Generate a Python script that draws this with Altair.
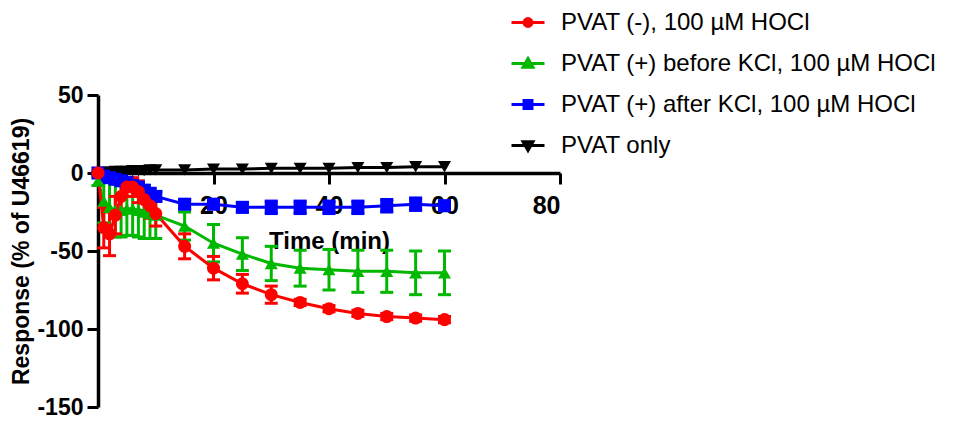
import altair as alt
import pandas as pd

# ---------------- data ----------------
times = [0, 1, 2, 3, 4, 5, 6, 7, 8, 9, 10, 15, 20, 25, 30, 35, 40, 45, 50, 55, 60]

series_names = [
    "PVAT (-), 100 µM HOCl",
    "PVAT (+) before KCl, 100 µM HOCl",
    "PVAT (+) after KCl, 100 µM HOCl",
    "PVAT only",
]
series_colors = ["#FF0000", "#00B800", "#0000FF", "#000000"]
series_shapes = ["circle", "triangle-up", "square", "triangle-down"]

red_mean = [0, -35, -39, -27, -15, -9, -9, -12, -17, -21, -26, -47, -61, -71, -78, -83, -87, -90, -92, -93, -94]
red_err = [0, 13, 14, 12, 8, 6, 6, 7, 7, 8, 8, 8, 7.5, 6, 5.5, 2, 2, 2, 2, 2, 2]

green_mean = [-5, -18, -22, -24, -24, -23, -23, -24, -25, -26, -27, -34, -45, -52, -58, -61, -62, -63, -63, -64, -64]
green_err = [3, 14, 16, 17, 17, 17, 17, 17, 17, 16, 15, 9, 12, 10.5, 11, 11.5, 13, 13.5, 13.5, 14, 14]

blue_mean = [0, -2, -3, -4, -5, -6, -8, -9, -11, -13, -15, -20, -20, -22, -22, -22, -22, -22, -21, -20, -21]
blue_err = [1, 2, 2, 2, 3, 3, 3, 3, 3, 3, 3, 3, 3, 3, 4, 4, 4, 4, 4, 4, 3]

black_mean = [0, 0.5, 0.5, 1, 1, 1, 1.5, 1.5, 1.5, 2, 2, 2, 2.5, 2.5, 3, 3, 3, 3.5, 3.5, 4, 4]
black_err = [0] * 21

# drawing order: black, blue, green, red (red on top)
draw_order = [
    (3, black_mean, black_err),
    (2, blue_mean, blue_err),
    (1, green_mean, green_err),
    (0, red_mean, red_err),
]
rows = []
for idx, means, errs in draw_order:
    for t, m, e in zip(times, means, errs):
        rows.append({"series": series_names[idx], "t": t, "mean": m,
                     "err": e, "lo": m - e, "hi": m + e})
df = pd.DataFrame(rows)

# ---------------- legend symbols (line + marker) ----------------
legend_paths = [
    "M-1,0L1,0M-0.24,0A0.24,0.24,0,1,0,0.24,0A0.24,0.24,0,1,0,-0.24,0Z",
    "M-1,0L1,0M0,-0.3L0.3,0.22L-0.3,0.22Z",
    "M-1,0L1,0M-0.24,-0.24L0.24,-0.24L0.24,0.24L-0.24,0.24Z",
    "M-1,0L1,0M0,0.3L0.3,-0.22L-0.3,-0.22Z",
]
names_js = "[" + ",".join("'" + n + "'" for n in series_names) + "]"
paths_js = "[" + ",".join("'" + p + "'" for p in legend_paths) + "]"
shape_expr = paths_js + "[indexof(" + names_js + ", datum.value)]"
color_expr = "scale('color', datum.value)"

FONT = "Liberation Sans"

legend = alt.Legend(
    title=None,
    orient="none",
    legendX=412,
    legendY=-90,
    padding=0,
    labelFont=FONT,
    labelFontSize=24,
    labelColor="black",
    labelLimit=600,
    labelOffset=15,
    symbolSize=1089,
    symbolStrokeWidth=3,
    symbolOpacity=1,
    symbolType=alt.ExprRef(expr=shape_expr),
    symbolFillColor=alt.ExprRef(expr=color_expr),
    symbolStrokeColor=alt.ExprRef(expr=color_expr),
    clipHeight=35,
    rowPadding=6,
)

color_scale = alt.Scale(domain=series_names, range=series_colors)
color_enc = alt.Color("series:N", scale=color_scale, legend=legend)
color_nolegend = alt.Color("series:N", scale=color_scale, legend=None)

x_enc = alt.X(
    "t:Q",
    scale=alt.Scale(domain=[0, 80], nice=False),
    axis=alt.Axis(
        values=[0, 20, 40, 60, 80],
        labelExpr="datum.value == 0 ? '' : datum.label",
        offset=-234,
        title="Time (min)",
        grid=False,
        domainColor="black",
        domainWidth=3.5,
        tickColor="black",
        tickWidth=3,
        tickSize=11,
        labelFont=FONT,
        labelFontSize=25,
        labelFontWeight="bold",
        labelColor="black",
        labelPadding=9,
        titleFont=FONT,
        titleFontSize=24,
        titleFontWeight="bold",
        titleColor="black",
        titlePadding=11,
    ),
)

y_axis = alt.Axis(
    values=[-150, -100, -50, 0, 50],
    labelExpr="toString(datum.value)",
    title="Response (% of U46619)",
    grid=False,
    domainColor="black",
    domainWidth=3.5,
    tickColor="black",
    tickWidth=3,
    tickSize=11,
    labelFont=FONT,
    labelFontSize=23,
    labelFontWeight="bold",
    labelColor="black",
    labelPadding=4,
    titleFont=FONT,
    titleFontSize=23,
    titleFontWeight="bold",
    titleColor="black",
    titlePadding=3,
)
y_scale = alt.Scale(domain=[-150, 50], nice=False)

base = alt.Chart(df)

bars = base.transform_filter("datum.err > 0").mark_rule(strokeWidth=3).encode(
    x=x_enc,
    y=alt.Y("lo:Q", scale=y_scale, axis=y_axis),
    y2="hi:Q",
    color=color_enc,
)

caps = (
    base.transform_filter("datum.err > 0")
    .transform_fold(["lo", "hi"], as_=["bound", "yv"])
    .mark_tick(orient="horizontal", size=13, thickness=3, opacity=1)
    .encode(x=x_enc, y=alt.Y("yv:Q", scale=y_scale, axis=y_axis), color=color_enc)
)

lines = base.mark_line(strokeWidth=3).encode(
    x=x_enc,
    y=alt.Y("mean:Q", scale=y_scale, axis=y_axis),
    color=color_enc,
    order="t:Q",
)

# one point layer per series (fixed marker shape), drawn black, blue, green, red
point_layers = []
for idx, _, _ in draw_order:
    point_layers.append(
        base.transform_filter(alt.datum.series == series_names[idx])
        .mark_point(filled=True, size=170, opacity=1, shape=series_shapes[idx])
        .encode(
            x=x_enc,
            y=alt.Y("mean:Q", scale=y_scale, axis=y_axis),
            color=color_nolegend,
        )
    )

chart = (
    alt.layer(bars, caps, lines, *point_layers)
    .properties(
        width=462,
        height=312,
        autosize=alt.AutoSizeParams(type="none"),
        padding={"left": 90, "top": 87, "right": 389, "bottom": 12},
        background="white",
    )
    .configure_view(stroke=None)
)

chart.save("out.html", embed_options={"renderer": "svg", "actions": False})
